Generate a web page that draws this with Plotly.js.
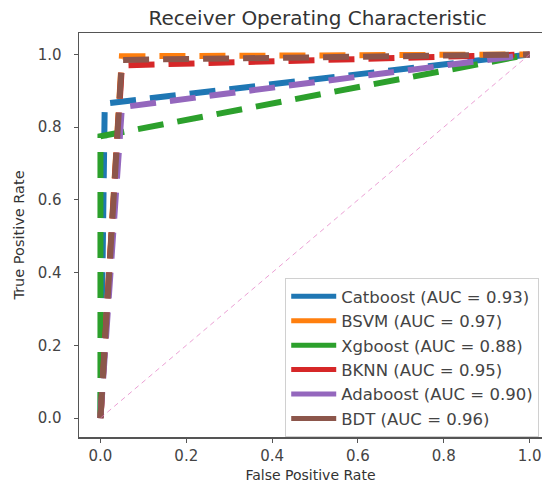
<!DOCTYPE html>
<html>
<head>
<meta charset="utf-8">
<script src="https://cdn.plot.ly/plotly-3.0.1.min.js"></script>
<style>html,body{margin:0;padding:0;background:#fff;overflow:hidden;}</style>
</head>
<body>
<div id="chart" style="width:542px;height:484px;"></div>
<script>
// Data
const modelNames = ["Catboost (AUC = 0.93)", "BSVM (AUC = 0.97)", "Xgboost (AUC = 0.88)", "BKNN (AUC = 0.95)", "Adaboost (AUC = 0.90)", "BDT (AUC = 0.96)"];
const catboostFpr = [0, 0.01, 1];
const catboostTpr = [0, 0.865, 1];
const bsvmFpr = [0, 0.05, 1];
const bsvmTpr = [0, 0.995, 1];
const xgboostFpr = [0, 0, 1];
const xgboostTpr = [0, 0.775, 1];
const bknnFpr = [0, 0.05, 1];
const bknnTpr = [0, 0.97, 1];
const adaboostFpr = [0, 0.05, 1];
const adaboostTpr = [0, 0.855, 1];
const bdtFpr = [0, 0.05, 1];
const bdtTpr = [0, 0.985, 1];
const chanceX = [0, 1];
const chanceY = [0, 1];
const tickVals = [0, 0.2, 0.4, 0.6, 0.8, 1.0];
const tickText = ["0.0", "0.2", "0.4", "0.6", "0.8", "1.0"];

const colors = ["#1f77b4", "#ff7f0e", "#2ca02c", "#d62728", "#9467bd", "#8c564b"];
const xs = [catboostFpr, bsvmFpr, xgboostFpr, bknnFpr, adaboostFpr, bdtFpr];
const ys = [catboostTpr, bsvmTpr, xgboostTpr, bknnTpr, adaboostTpr, bdtTpr];

const traces = [];
for (let i = 0; i < modelNames.length; i++) {
  traces.push({
    x: xs[i], y: ys[i], name: modelNames[i], type: "scatter", mode: "lines",
    line: {color: colors[i], width: 6, dash: "26px,14px"},
    showlegend: false, hoverinfo: "skip"
  });
}
traces.push({
  x: chanceX, y: chanceY, type: "scatter", mode: "lines", showlegend: false,
  line: {color: "#e377c2", width: 1, dash: "5px,4px"}, opacity: 0.7
});
// legend entries with solid samples
for (let i = 0; i < modelNames.length; i++) {
  traces.push({
    x: [null], y: [null], name: modelNames[i], type: "scatter", mode: "lines",
    line: {color: colors[i], width: 5}, showlegend: true
  });
}

const layout = {
  width: 542, height: 484,
  margin: {l: 79, r: 0, t: 33, b: 47},
  paper_bgcolor: "#fff", plot_bgcolor: "#fff",
  font: {family: "DejaVu Sans", color: "#333", size: 14},
  title: {text: "Receiver Operating Characteristic", font: {size: 20, color: "#333"},
          x: 0.5155, xanchor: "center", y: 0.963, yanchor: "middle", xref: "paper"},
  xaxis: {
    range: [-0.05, 1.029], tickvals: tickVals, ticktext: tickText,
    showgrid: false, zeroline: false, showline: true, mirror: true,
    linecolor: "#555", linewidth: 1.5, ticks: "outside", ticklen: 4, tickcolor: "#555",
    tickfont: {size: 15, color: "#444"},
    title: {text: "False Positive Rate", font: {size: 14, color: "#333"}, standoff: 6}
  },
  yaxis: {
    range: [-0.052, 1.059], tickvals: tickVals, ticktext: tickText,
    showgrid: false, zeroline: false, showline: true, mirror: false,
    linecolor: "#555", linewidth: 1.5, ticks: "outside", ticklen: 4, tickcolor: "#555",
    tickfont: {size: 15, color: "#444"}, ticklabelstandoff: 9,
    title: {text: "True Positive Rate", font: {size: 14.5, color: "#333"}, standoff: 9}
  },
  legend: {
    x: 0.994, xanchor: "right", y: 0.0, yanchor: "bottom",
    bgcolor: "rgba(255,255,255,0.85)", bordercolor: "#d0d0d0", borderwidth: 1,
    font: {size: 16.5, color: "#444"}, itemwidth: 45, tracegroupgap: 0
  },
  showlegend: true
};

Plotly.newPlot("chart", traces, layout, {staticPlot: true, displayModeBar: false});
</script>
</body>
</html>
